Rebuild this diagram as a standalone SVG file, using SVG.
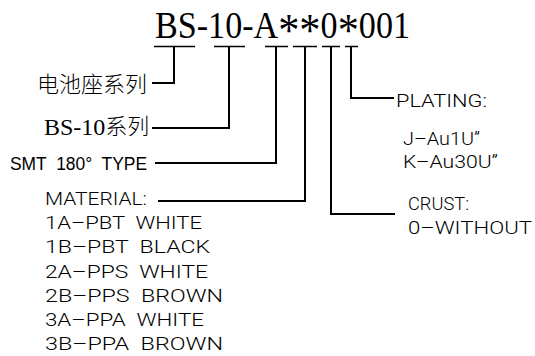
<svg xmlns="http://www.w3.org/2000/svg" width="535" height="356" viewBox="0 0 535 356">
  <style>
    .bg { fill: #ffffff; }
    .t { fill: #000000; font-family: Roboto, "Liberation Sans", sans-serif; font-weight: 300; font-size: 18px; white-space: pre; }
    .smt { fill: #000000; font-family: "Liberation Sans", sans-serif; font-size: 18px; white-space: pre; }
    .ser { fill: #000000; font-family: "Liberation Serif", "Noto Sans CJK SC", serif; font-weight: 400; }
    .cjk { fill: #000000; font-family: "Noto Sans CJK SC", "Noto Sans CJK JP", sans-serif; font-weight: 300; font-size: 22px; }
    .ln { fill: none; stroke: #000000; stroke-width: 2; stroke-linecap: square; }
    .ul { fill: none; stroke: #000000; stroke-width: 1.6; }
  </style>
  <rect class="bg" x="0" y="0" width="535" height="356"/>

  <g id="title">
    <text class="ser" x="155" y="38" font-size="37" textLength="255" lengthAdjust="spacingAndGlyphs">BS-10-A<tspan font-size="46" dy="8">**</tspan><tspan dy="-8">0</tspan><tspan font-size="46" dy="8">*</tspan><tspan dy="-8">001</tspan></text>
    <path class="ul" d="M154 46.5H195M214 46.5H245M265 46.5H288M293 46.5H317M322 46.5H340M345 46.5H358"/>
  </g>

  <g id="connectors">
    <path class="ln" d="M174 47V83H153"/>
    <path class="ln" d="M229 47V128H153"/>
    <path class="ln" d="M276 47V163H156"/>
    <path class="ln" d="M305 47V201H159"/>
    <path class="ln" d="M331 47V214H394"/>
    <path class="ln" d="M351 47V98H393"/>
  </g>

  <g id="label-series">
    <text class="cjk" x="37" y="92">电池座系列</text>
  </g>
  <g id="label-bs10">
    <text class="ser" x="44" y="135" font-size="24">BS-10<tspan class="cjk" dy="-1">系列</tspan></text>
  </g>
  <g id="label-smt">
    <text class="smt" x="10" y="170" textLength="137" lengthAdjust="spacingAndGlyphs">SMT  180°  TYPE</text>
  </g>
  <g id="label-material">
    <text class="t" x="45" y="205" textLength="102" lengthAdjust="spacingAndGlyphs">MATERIAL:</text>
    <text class="t" x="45" y="229" textLength="157" lengthAdjust="spacingAndGlyphs">1A–PBT  WHITE</text>
    <text class="t" x="45" y="253" textLength="165" lengthAdjust="spacingAndGlyphs">1B–PBT  BLACK</text>
    <text class="t" x="45" y="278" textLength="163" lengthAdjust="spacingAndGlyphs">2A–PPS  WHITE</text>
    <text class="t" x="45" y="302" textLength="178" lengthAdjust="spacingAndGlyphs">2B–PPS  BROWN</text>
    <text class="t" x="45" y="326" textLength="159" lengthAdjust="spacingAndGlyphs">3A–PPA  WHITE</text>
    <text class="t" x="45" y="350" textLength="178" lengthAdjust="spacingAndGlyphs">3B–PPA  BROWN</text>
  </g>
  <g id="label-plating">
    <text class="t" x="396" y="107" font-size="19" textLength="91" lengthAdjust="spacingAndGlyphs">PLATING:</text>
    <text class="t" x="403" y="145" textLength="77" lengthAdjust="spacingAndGlyphs">J–Au1U”</text>
    <text class="t" x="403" y="168" textLength="95" lengthAdjust="spacingAndGlyphs">K–Au30U”</text>
  </g>
  <g id="label-crust">
    <text class="t" x="408" y="210" textLength="61" lengthAdjust="spacingAndGlyphs">CRUST:</text>
    <text class="t" x="408" y="234" textLength="124" lengthAdjust="spacingAndGlyphs">0–WITHOUT</text>
  </g>
</svg>
